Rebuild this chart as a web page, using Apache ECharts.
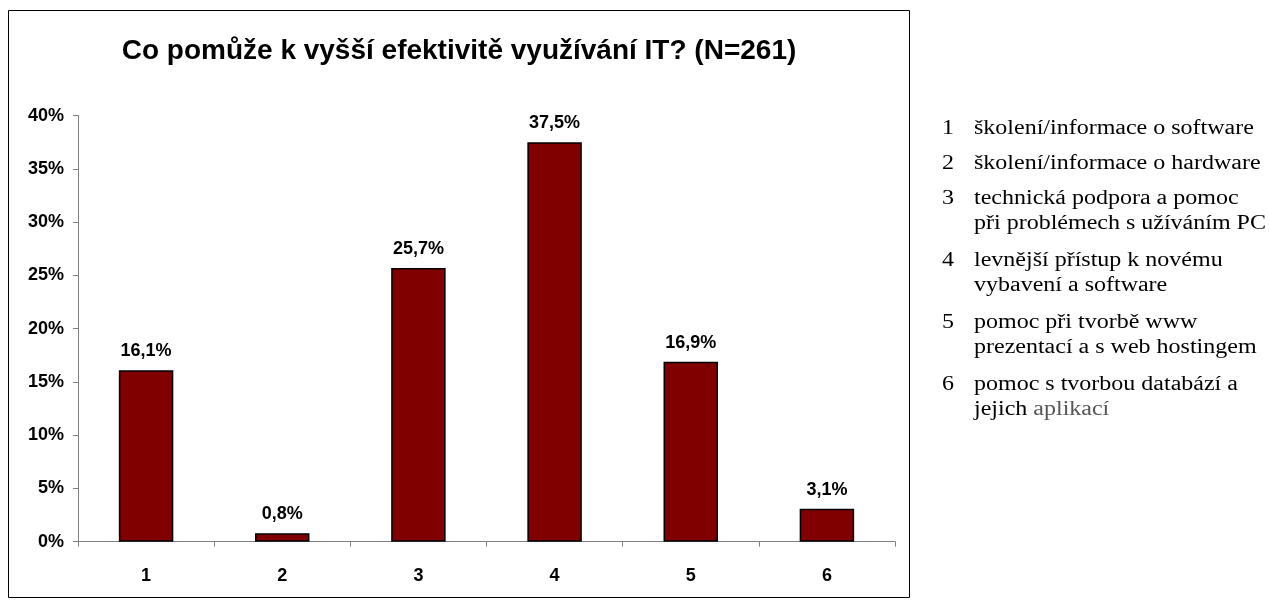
<!DOCTYPE html>
<html>
<head>
<meta charset="utf-8">
<script src="https://cdn.jsdelivr.net/npm/echarts@6/dist/echarts.min.js"></script>
<style>
    html, body { margin: 0; padding: 0; background: #fff; }
    #main { width: 1269px; height: 600px; }
</style>
</head>
<body>
<div id="main"></div>
<script>
// data
var titleText = 'Co pomůže k vyšší efektivitě využívání IT? (N=261)';
var categories = ['1', '2', '3', '4', '5', '6'];
var values = [16.1, 0.8, 25.7, 37.5, 16.9, 3.1];
var legendNums = ['1', '2', '3', '4', '5', '6'];
var legendLines = [
    ['školení/informace o software'],
    ['školení/informace o hardware'],
    ['technická podpora a pomoc', 'při problémech s užíváním PC'],
    ['levnější přístup k novému', 'vybavení a software'],
    ['pomoc při tvorbě www', 'prezentací a s web hostingem'],
    ['pomoc s tvorbou databází a', 'jejich {g|aplikací}']
];

var myChart = echarts.init(document.getElementById('main'), null, {renderer: 'canvas'});

// legend on the right (plain text, the source text is a bit wider than Times)
var legendFont = '20px "Liberation Serif"';
var legendGraphics = [];
var ly = 129; // centre of the first line
for (let i = 0; i < legendNums.length; i++) {
    legendGraphics.push({
        type: 'text',
        x: 942, y: ly - 12.5,
        scaleX: 1.2,
        style: {text: legendNums[i], font: legendFont, fill: '#000', lineHeight: 25}
    });
    legendGraphics.push({
        type: 'text',
        x: 974, y: ly - 12.5,
        scaleX: 1.2,
        style: {
            text: legendLines[i].join('\n'),
            font: legendFont,
            fill: '#000',
            lineHeight: 25,
            rich: {g: {fill: '#555', font: legendFont, lineHeight: 25}}
        }
    });
    ly += legendLines[i].length > 1 ? 25 * (legendLines[i].length - 1) + 37 : 35;
}

var option = {
    animation: false,
    backgroundColor: '#fff',
    title: {
        text: titleText,
        left: 454,
        textAlign: 'center',
        top: 32,
        textStyle: {
            fontFamily: 'Liberation Sans, Arial',
            fontWeight: 'bold',
            fontSize: 28,
            color: '#000'
        }
    },
    grid: {
        left: 78,
        right: 374,
        top: 115.7,
        bottom: 58.3
    },
    xAxis: {
        type: 'category',
        data: categories,
        axisLine: {lineStyle: {color: '#808080', width: 1}},
        axisTick: {show: true, alignWithLabel: false, length: 5, lineStyle: {color: '#808080'}},
        axisLabel: {
            margin: 25,
            fontFamily: 'Liberation Sans, Arial',
            fontWeight: 'bold',
            fontSize: 18,
            color: '#000'
        }
    },
    yAxis: {
        type: 'value',
        min: 0,
        max: 40,
        interval: 5,
        splitLine: {show: false},
        axisLine: {show: true, lineStyle: {color: '#808080', width: 1}},
        axisTick: {show: true, length: 5, lineStyle: {color: '#808080'}},
        axisLabel: {
            formatter: '{value}%',
            margin: 14,
            fontFamily: 'Liberation Sans, Arial',
            fontWeight: 'bold',
            fontSize: 18,
            color: '#000'
        }
    },
    series: [{
        type: 'bar',
        data: values,
        barWidth: '40%',
        itemStyle: {color: '#800000', borderColor: '#000', borderWidth: 1.5},
        label: {
            show: true,
            position: 'top',
            distance: 10,
            formatter: function (p) {
                return p.value.toFixed(1).replace('.', ',') + '%';
            },
            fontFamily: 'Liberation Sans, Arial',
            fontWeight: 'bold',
            fontSize: 18,
            color: '#000'
        }
    }],
    graphic: [{
        type: 'rect',
        shape: {x: 8.5, y: 10.5, width: 901, height: 587},
        style: {fill: 'none', stroke: '#000', lineWidth: 1},
        silent: true
    }].concat(legendGraphics)
};

myChart.setOption(option);
</script>
</body>
</html>
